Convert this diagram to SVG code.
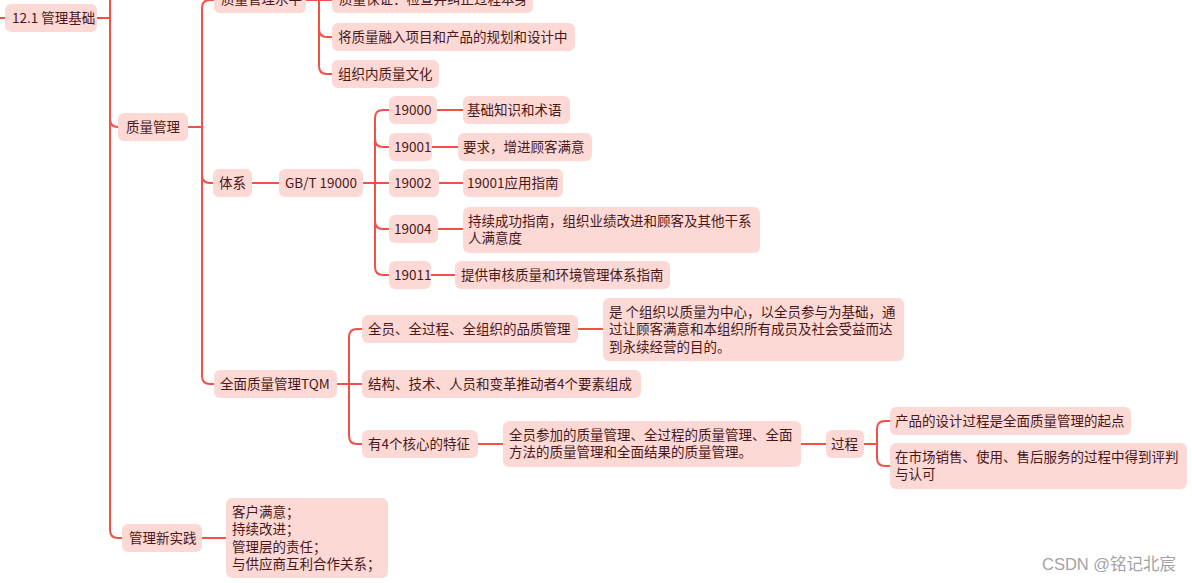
<svg xmlns="http://www.w3.org/2000/svg" width="1192" height="583" viewBox="0 0 1192 583">
<style>
.b{fill:#fdd9d6}
.t{font-family:"Noto Sans CJK SC","Noto Sans",sans-serif;font-size:13.5px;fill:#4a1818}
.c{fill:none;stroke:#f4504a;stroke-width:2;stroke-linecap:round}
.w{font-family:"Liberation Sans","Noto Sans CJK SC",sans-serif;font-size:16.5px;fill:#a3a3a3}
</style>
<rect width="1192" height="583" fill="#ffffff"/>
<g id="connectors">
<path class="c" d="M0,18 H5"/>
<path class="c" d="M97,18 H110"/>
<path class="c" d="M110,-5 V530 Q110,538 118,538 H122"/>
<path class="c" d="M110,119 Q110,127 118,127"/>
<path class="c" d="M188,127 H202"/>
<path class="c" d="M214,0 H210 Q202,0 202,8 V376 Q202,384 210,384 H214"/>
<path class="c" d="M202,175 Q202,183 210,183 H213"/>
<path class="c" d="M306,0 H332"/>
<path class="c" d="M319,-5 V66 Q319,74 327,74 H332"/>
<path class="c" d="M319,29 Q319,37 327,37 H332"/>
<path class="c" d="M252,183 H279"/>
<path class="c" d="M363,183 H389"/>
<path class="c" d="M389,110 H383 Q375,110 375,118 V267 Q375,275 383,275 H389"/>
<path class="c" d="M375,139 Q375,147 383,147 H389"/>
<path class="c" d="M375,221 Q375,229 383,229 H389"/>
<path class="c" d="M437,110 H463"/>
<path class="c" d="M432,147 H458"/>
<path class="c" d="M439,183 H463"/>
<path class="c" d="M438,229 H463"/>
<path class="c" d="M431,275 H455"/>
<path class="c" d="M337,384 H362"/>
<path class="c" d="M362,329 H357 Q349,329 349,337 V436 Q349,444 357,444 H362"/>
<path class="c" d="M578,329 H603"/>
<path class="c" d="M478,444 H503"/>
<path class="c" d="M801,444 H826"/>
<path class="c" d="M864,444 H877"/>
<path class="c" d="M890,421 H885 Q877,421 877,429 V458 Q877,466 885,466 H890"/>
<path class="c" d="M202,538 H226"/>
</g>
<g id="n_root"><rect class="b" x="5" y="4" width="92" height="28" rx="6"/><text class="t" x="12" y="23">12.1 管理基础</text></g>
<g id="n_zlgl"><rect class="b" x="118" y="113" width="70" height="28" rx="6"/><text class="t" x="126" y="132">质量管理</text></g>
<g id="n_glxsj"><rect class="b" x="122" y="524" width="80" height="28" rx="6"/><text class="t" x="129" y="543">管理新实践</text></g>
<g id="n_zlglsp"><rect class="b" x="214" y="-14" width="92" height="27" rx="6"/><text class="t" x="221" y="4">质量管理水平</text></g>
<g id="n_zlbz"><rect class="b" x="332" y="-14" width="201" height="27" rx="6"/><text class="t" x="339" y="4">质量保证：检查并纠正过程本身</text></g>
<g id="n_jzl"><rect class="b" x="332" y="23" width="243" height="28" rx="6"/><text class="t" x="338" y="42">将质量融入项目和产品的规划和设计中</text></g>
<g id="n_zzn"><rect class="b" x="332" y="60" width="107" height="28" rx="6"/><text class="t" x="338" y="79">组织内质量文化</text></g>
<g id="n_tx"><rect class="b" x="213" y="169" width="39" height="28" rx="6"/><text class="t" x="219" y="188">体系</text></g>
<g id="n_gbt"><rect class="b" x="279" y="169" width="84" height="28" rx="6"/><text class="t" x="285" y="188">GB/T 19000</text></g>
<g id="n_19000"><rect class="b" x="389" y="96" width="48" height="28" rx="6"/><text class="t" x="394" y="115">19000</text></g>
<g id="n_19000d"><rect class="b" x="463" y="96" width="107" height="28" rx="6"/><text class="t" x="467" y="115">基础知识和术语</text></g>
<g id="n_19001"><rect class="b" x="389" y="133" width="43" height="28" rx="6"/><text class="t" x="394" y="152">19001</text></g>
<g id="n_19001d"><rect class="b" x="458" y="133" width="134" height="28" rx="6"/><text class="t" x="463" y="152">要求，增进顾客满意</text></g>
<g id="n_19002"><rect class="b" x="389" y="169" width="50" height="28" rx="6"/><text class="t" x="394" y="188">19002</text></g>
<g id="n_19002d"><rect class="b" x="463" y="169" width="100" height="28" rx="6"/><text class="t" x="467" y="188">19001应用指南</text></g>
<g id="n_19004"><rect class="b" x="389" y="215" width="49" height="28" rx="6"/><text class="t" x="394" y="234">19004</text></g>
<g id="n_19004d"><rect class="b" x="463" y="207" width="297" height="46" rx="6"/><text class="t" x="468" y="226">持续成功指南，组织业绩改进和顾客及其他干系</text><text class="t" x="468" y="243">人满意度</text></g>
<g id="n_19011"><rect class="b" x="389" y="261" width="42" height="28" rx="6"/><text class="t" x="394" y="280">19011</text></g>
<g id="n_19011d"><rect class="b" x="455" y="261" width="215" height="28" rx="6"/><text class="t" x="461" y="280">提供审核质量和环境管理体系指南</text></g>
<g id="n_tqm"><rect class="b" x="214" y="370" width="123" height="28" rx="6"/><text class="t" x="220" y="389">全面质量管理TQM</text></g>
<g id="n_qy"><rect class="b" x="362" y="315" width="216" height="28" rx="6"/><text class="t" x="368" y="334">全员、全过程、全组织的品质管理</text></g>
<g id="n_qyd"><rect class="b" x="603" y="298" width="301" height="63" rx="6"/><text class="t" x="609" y="317">是 个组织以质量为中心，以全员参与为基础，通</text><text class="t" x="609" y="334">过让顾客满意和本组织所有成员及社会受益而达</text><text class="t" x="609" y="352">到永续经营的目的。</text></g>
<g id="n_jg"><rect class="b" x="362" y="370" width="279" height="28" rx="6"/><text class="t" x="368" y="389">结构、技术、人员和变革推动者4个要素组成</text></g>
<g id="n_y4"><rect class="b" x="362" y="430" width="116" height="28" rx="6"/><text class="t" x="368" y="449">有4个核心的特征</text></g>
<g id="n_qycj"><rect class="b" x="503" y="421" width="298" height="46" rx="6"/><text class="t" x="509" y="440">全员参加的质量管理、全过程的质量管理、全面</text><text class="t" x="509" y="457">方法的质量管理和全面结果的质量管理。</text></g>
<g id="n_gc"><rect class="b" x="826" y="430" width="38" height="28" rx="6"/><text class="t" x="831" y="449">过程</text></g>
<g id="n_cp"><rect class="b" x="890" y="407" width="241" height="28" rx="6"/><text class="t" x="895" y="426">产品的设计过程是全面质量管理的起点</text></g>
<g id="n_sc"><rect class="b" x="890" y="443" width="297" height="46" rx="6"/><text class="t" x="895" y="462">在市场销售、使用、售后服务的过程中得到评判</text><text class="t" x="895" y="479">与认可</text></g>
<g id="n_khmy"><rect class="b" x="226" y="498" width="162" height="80" rx="6"/><text class="t" x="232" y="517">客户满意；</text><text class="t" x="232" y="534">持续改进；</text><text class="t" x="232" y="552">管理层的责任；</text><text class="t" x="232" y="569">与供应商互利合作关系；</text></g>
<text class="w" x="1042" y="570">CSDN @铭记北宸</text>
</svg>
